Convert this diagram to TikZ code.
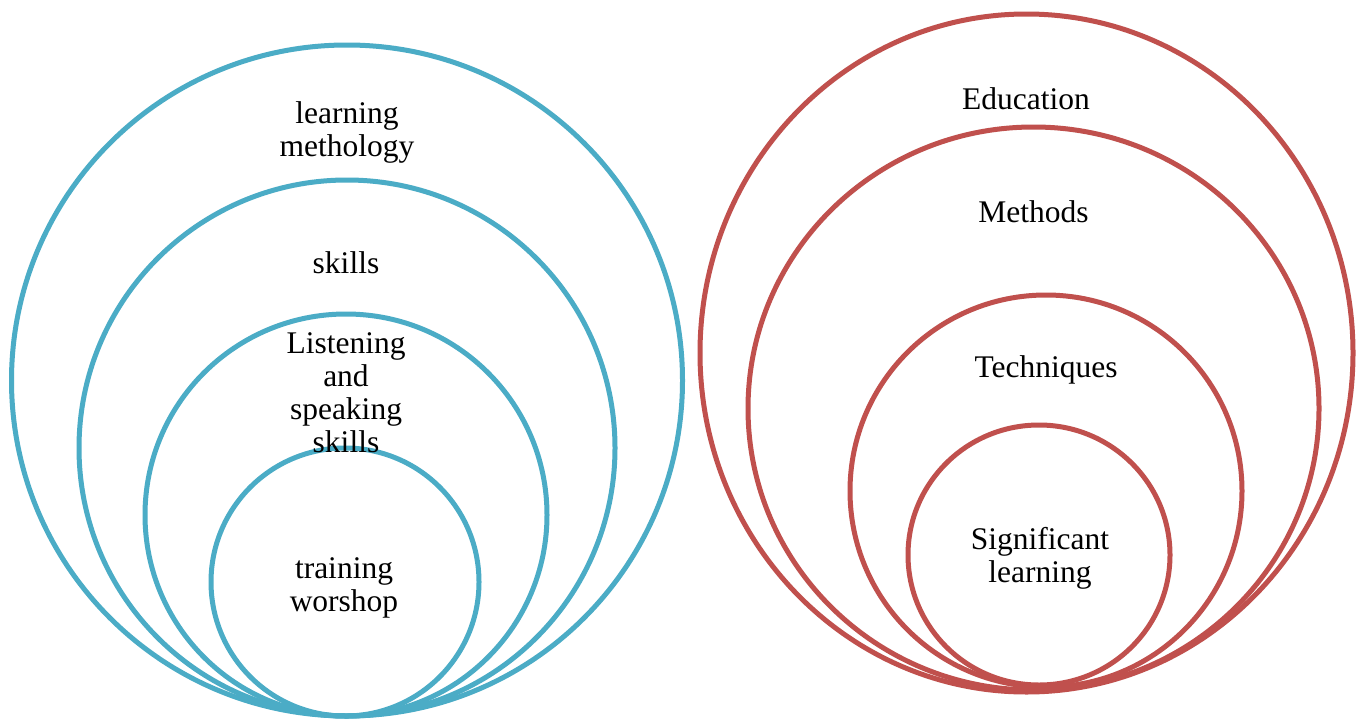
\documentclass[tikz,border=0pt]{standalone}
\usepackage{fontspec}
\setmainfont{Liberation Serif}
\definecolor{ringblue}{HTML}{4BACC6}
\definecolor{ringred}{HTML}{C0504D}
\begin{document}
\begin{tikzpicture}[x=1pt,y=-1pt,
  bluering/.style={draw=ringblue,line width=5pt},
  redring/.style={draw=ringred,line width=5pt},
  lbl/.style={align=center,inner sep=0pt,font=\fontsize{31.5}{33}\selectfont}]
\useasboundingbox[fill=white] (0,0) rectangle (1362,720);
% left (blue) nested circles, tangent at bottom
\draw[bluering] (347,380.5) circle[radius=335.5];
\draw[bluering] (347,448) circle[radius=268];
\draw[bluering] (346,515) circle[radius=201];
\draw[bluering] (345,582) circle[radius=134];
% right (red) nested ellipses
\draw[redring] (1026.5,353) ellipse[x radius=326.5,y radius=339];
\draw[redring] (1033.5,408.5) ellipse[x radius=285.5,y radius=281.5];
\draw[redring] (1046,491) ellipse[x radius=196,y radius=196];
\draw[redring] (1039,555) ellipse[x radius=131,y radius=130];
% labels
\node[lbl] (lm) at (347,132.5) {learning\\methology};
\node[lbl] (sk) at (346,263) {skills};
\node[lbl] (ls) at (346,393) {Listening\\and\\speaking\\skills};
\node[lbl] (tw) at (344,587.5) {training\\worshop};
\node[lbl] (ed) at (1026,99) {Education};
\node[lbl] (me) at (1033.5,212) {Methods};
\node[lbl] (te) at (1046,370) {Techniques};
\node[lbl] (sl) at (1040,558.5) {Significant\\learning};
\end{tikzpicture}
\end{document}
